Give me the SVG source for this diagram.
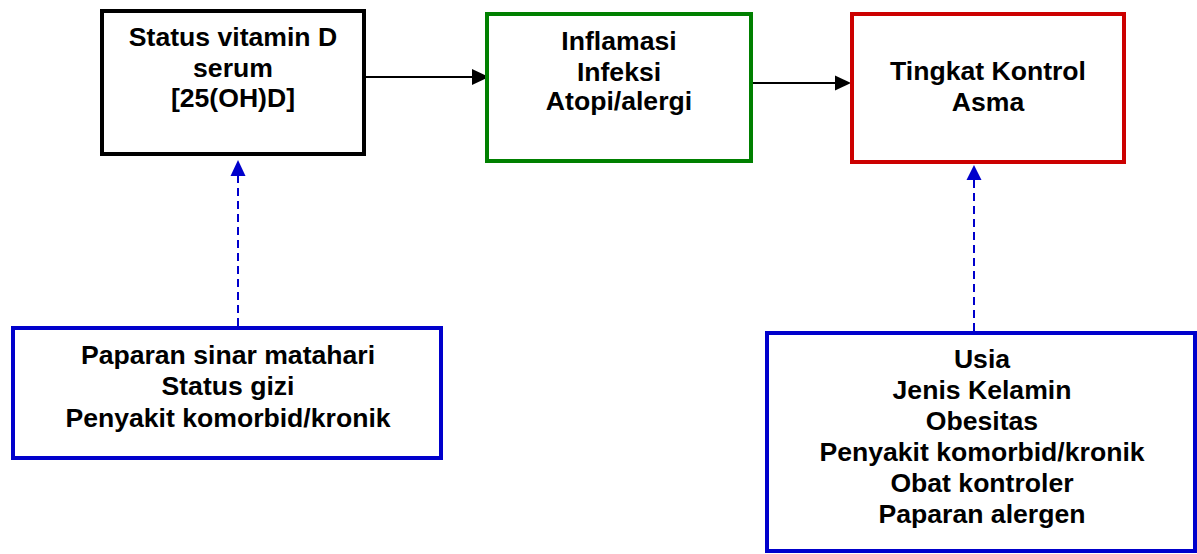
<svg xmlns="http://www.w3.org/2000/svg" width="1197" height="554" viewBox="0 0 1197 554">
<style>
.t{font-family:"Liberation Sans",Arial,sans-serif;font-weight:bold;font-size:26.6px;fill:#000;text-anchor:middle}
.box{fill:#fff;stroke-width:4}
.solid{stroke:#000;stroke-width:2;fill:none}
.dash{stroke:#0000cc;stroke-width:2;stroke-dasharray:8 5;fill:none}
</style>
<rect width="1197" height="554" fill="#fff"/>
<g id="connectors">
<line class="solid" x1="366" y1="77" x2="474" y2="77"/>
<polygon points="489,77 472,69 472,85" fill="#000"/>
<line class="solid" x1="753" y1="83" x2="837" y2="83"/>
<polygon points="851,83 835,75.5 835,90.5" fill="#000"/>
<line class="dash" x1="238" y1="326" x2="238" y2="175"/>
<polygon points="238,160 230.5,176 245.5,176" fill="#0000cc"/>
<line class="dash" x1="974" y1="331" x2="974" y2="179"/>
<polygon points="974,165 966.5,180 981.5,180" fill="#0000cc"/>
</g>
<g id="vitd">
<rect class="box" x="102" y="11" width="262" height="143" stroke="#000"/>
<text class="t" x="233" y="46">Status vitamin D</text>
<text class="t" x="233" y="77">serum</text>
<text class="t" x="233" y="107">[25(OH)D]</text>
</g>
<g id="inflamasi">
<rect class="box" x="487" y="14" width="264" height="147" stroke="#008000"/>
<text class="t" x="619" y="50">Inflamasi</text>
<text class="t" x="619" y="81">Infeksi</text>
<text class="t" x="619" y="110">Atopi/alergi</text>
</g>
<g id="kontrol">
<rect class="box" x="852" y="14" width="272" height="148" stroke="#cc0000"/>
<text class="t" x="988" y="80">Tingkat Kontrol</text>
<text class="t" x="988" y="111">Asma</text>
</g>
<g id="faktor1">
<rect class="box" x="13" y="328" width="428" height="130" stroke="#0000cc"/>
<text class="t" x="228" y="364">Paparan sinar matahari</text>
<text class="t" x="228" y="395">Status gizi</text>
<text class="t" x="228" y="427">Penyakit komorbid/kronik</text>
</g>
<g id="faktor2">
<rect class="box" x="767" y="333" width="428" height="218" stroke="#0000cc"/>
<text class="t" x="982" y="368">Usia</text>
<text class="t" x="982" y="399">Jenis Kelamin</text>
<text class="t" x="982" y="430">Obesitas</text>
<text class="t" x="982" y="461">Penyakit komorbid/kronik</text>
<text class="t" x="982" y="492">Obat kontroler</text>
<text class="t" x="982" y="523">Paparan alergen</text>
</g>
</svg>
